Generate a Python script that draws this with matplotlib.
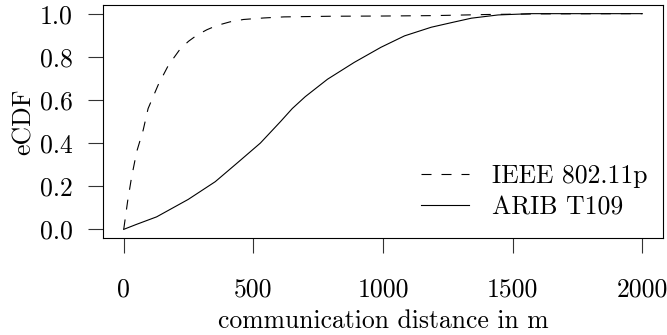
import matplotlib
matplotlib.use('Agg')
import matplotlib.pyplot as plt

plt.rcParams['font.family'] = ['cmr10', 'DejaVu Serif']
plt.rcParams['axes.formatter.use_mathtext'] = True
plt.rcParams['mathtext.fontset'] = 'cm'

# IEEE 802.11p eCDF
ieee_x = [0, 15, 30, 50, 75, 94, 133, 172, 217, 250, 282, 320, 359, 410, 462, 540, 618,
          800, 1000, 1200, 1400, 1600, 2000]
ieee_y = [0.0, 0.13, 0.24, 0.36, 0.46, 0.56, 0.67, 0.76, 0.835, 0.872, 0.90, 0.925, 0.945,
          0.962, 0.973, 0.98, 0.985, 0.988, 0.989, 0.991, 0.996, 0.999, 1.0]

# ARIB T109 eCDF
arib_x = [0, 49, 127, 249, 353, 440, 527, 605, 650, 700, 786, 889, 992, 1083, 1186, 1270, 1341,
          1444, 1573, 2000]
arib_y = [0.0, 0.023, 0.058, 0.139, 0.221, 0.31, 0.40, 0.50, 0.56, 0.615, 0.696, 0.774, 0.844,
          0.897, 0.937, 0.96, 0.979, 0.994, 1.0, 1.0]

xticks = [0, 500, 1000, 1500, 2000]
yticks = [0.0, 0.2, 0.4, 0.6, 0.8, 1.0]
fs = 18.5

fig = plt.figure(figsize=(6.67, 3.35), dpi=100)
ax = fig.add_axes([0.1544, 0.2896, 0.8396, 0.6954])

ax.plot(ieee_x, ieee_y, color='black', lw=0.8, ls=(0, (9, 9)), label='IEEE 802.11p')
ax.plot(arib_x, arib_y, color='black', lw=0.8, label='ARIB T109')

ax.set_xlim(-80, 2080)
ax.set_ylim(-0.04, 1.04)
ax.set_xticks(xticks)
ax.set_xticklabels([str(t) for t in xticks])
ax.set_yticks(yticks)
ax.set_yticklabels(['%.1f' % t for t in yticks])

ax.tick_params(axis='x', length=11, width=0.8, color='#333333', pad=18, labelsize=fs)
ax.tick_params(axis='y', length=11, width=0.8, color='#333333', pad=11, labelsize=fs)
for s in ax.spines.values():
    s.set_linewidth(0.8)

ax.set_xlabel('communication distance in m', fontsize=fs, labelpad=5)
ax.set_ylabel('eCDF', fontsize=fs, labelpad=3)

ax.legend(loc='lower right', bbox_to_anchor=(1.0, 0.015), frameon=False, fontsize=fs,
          handlelength=1.85, handletextpad=0.9, labelspacing=0.3, borderaxespad=0.2)

fig.savefig('out.png', dpi=100)
